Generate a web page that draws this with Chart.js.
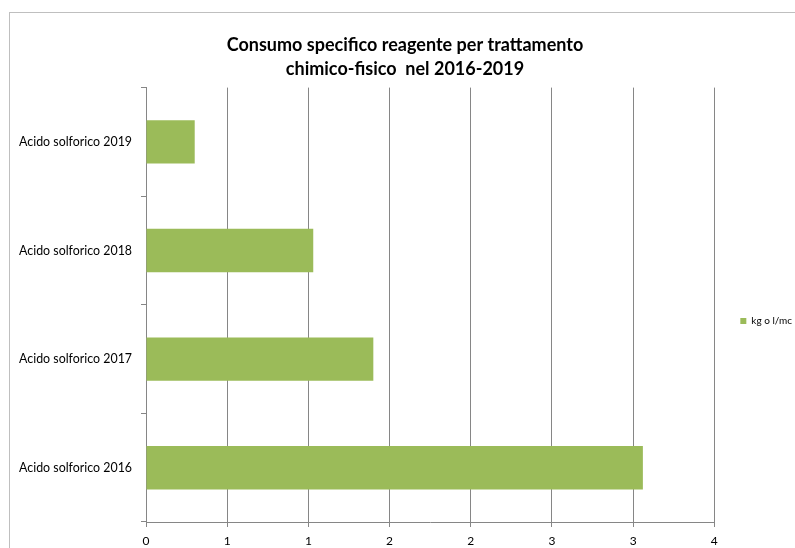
<!DOCTYPE html>
<html>
<head>
<meta charset="utf-8">
<script src="https://cdn.jsdelivr.net/npm/chart.js@4.4.0/dist/chart.umd.min.js"></script>
<style>
  html, body { margin: 0; padding: 0; background: #fff; overflow: hidden; }
  #wrap { position: relative; width: 802px; height: 548px; }
</style>
</head>
<body>
<div id="wrap"><canvas id="chart" width="802" height="548"></canvas></div>
<script>
// data
const categories = ['Acido solforico 2019', 'Acido solforico 2018', 'Acido solforico 2017', 'Acido solforico 2016'];
const values = [0.30, 1.03, 1.40, 3.06];
const seriesName = 'kg o l/mc';
const titleLines = ['Consumo specifico reagente per trattamento', 'chimico-fisico  nel 2016-2019'];
const xMin = 0, xMax = 3.5, xStep = 0.5;

const FONT = 'Lato, "Liberation Sans", sans-serif';
const GRID = '#868686';

// outer chart frame like the spreadsheet chart object
const framePlugin = {
  id: 'frame',
  beforeDraw(chart) {
    const ctx = chart.ctx;
    ctx.save();
    ctx.fillStyle = '#fff';
    ctx.fillRect(0, 0, chart.width, chart.height);
    ctx.strokeStyle = '#bfbfbf';
    ctx.lineWidth = 1;
    ctx.strokeRect(9.5, 12.5, chart.width + 20, chart.height + 20);
    ctx.restore();
  }
};

new Chart(document.getElementById('chart'), {
  type: 'bar',
  data: {
    labels: categories,
    datasets: [{
      label: seriesName,
      data: values,
      backgroundColor: '#9BBB59',
      borderWidth: 0,
      barPercentage: 0.4,
      categoryPercentage: 1
    }]
  },
  options: {
    indexAxis: 'y',
    responsive: false,
    animation: false,
    devicePixelRatio: 1,
    layout: { padding: { top: 12, left: 8, right: 0, bottom: 0 } },
    plugins: {
      title: {
        display: true,
        text: titleLines,
        color: '#000',
        font: { family: FONT, size: 18, weight: 'bold', lineHeight: 1.35 },
        padding: { top: 21, bottom: 6 }
      },
      legend: {
        position: 'right',
        // blank title only pushes the single legend entry down a bit
        title: { display: true, text: ' ', padding: { top: 70, bottom: 0 }, font: { size: 10 } },
        labels: {
          boxWidth: 6,
          boxHeight: 6,
          padding: 26,
          color: '#000',
          font: { family: FONT, size: 10 }
        }
      },
      tooltip: { enabled: false }
    },
    scales: {
      x: {
        type: 'linear',
        min: xMin,
        max: xMax,
        ticks: {
          stepSize: xStep,
          color: '#000',
          padding: 7,
          font: { family: FONT, size: 12 },
          callback: v => Math.round(v)
        },
        grid: { color: GRID, tickLength: 5 },
        border: { color: GRID },
        afterFit(scale) { scale.height = 26; }
      },
      y: {
        ticks: {
          color: '#000',
          padding: 9,
          font: { family: FONT, size: 12.4 }
        },
        grid: { drawOnChartArea: false, color: GRID, tickLength: 5, offset: true },
        border: { color: GRID },
        afterFit(scale) { scale.width = 138; }
      }
    }
  },
  plugins: [framePlugin]
});
</script>
</body>
</html>
